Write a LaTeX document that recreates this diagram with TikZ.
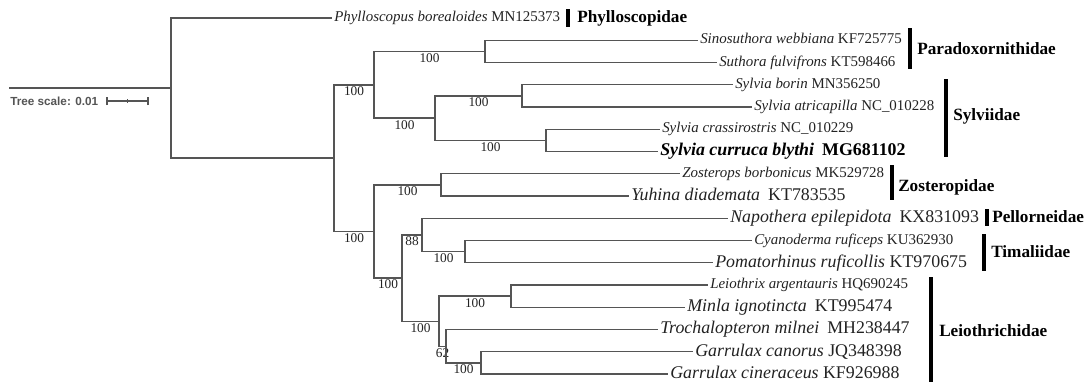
\documentclass[tikz,border=0pt]{standalone}
\usepackage{fontspec}
\setmainfont{Liberation Serif}
\newfontfamily\scalefamily{Liberation Sans}
\usetikzlibrary{calc}
\definecolor{treegray}{HTML}{555555}
\definecolor{labgray}{HTML}{222222}
\tikzset{
  leafsm/.style={anchor=west, inner xsep=1.5pt, inner ysep=0pt, text height=7.5pt, text depth=2pt, text=labgray, font=\fontsize{11.2}{13}\selectfont},
  leaflg/.style={leafsm, text height=9pt, text depth=2.5pt, font=\fontsize{13.4}{15}\selectfont},
  family/.style={anchor=west, inner sep=0pt, font=\fontsize{12.9}{15}\selectfont\bfseries},
  branch/.style={draw=treegray, line width=1.05pt},
  boot/.style={below, inner sep=1pt, text=labgray, font=\fontsize{10}{11}\selectfont},
  cladebar/.style={line width=2.4pt, draw=black}
}

\begin{document}
\begin{tikzpicture}[x=0.75pt, y=-0.75pt]
  \useasboundingbox (0,0) rectangle (1086,386);

  % Hojas
  \node (phyl)  [leafsm] at (332,18)     {\textit{Phylloscopus borealoides} MN125373};
  \node (sino)  [leafsm] at (698,40.25)  {\textit{Sinosuthora webbiana} KF725775};
  \node (suth)  [leafsm] at (717,62.5)   {\textit{Suthora fulvifrons} KT598466};
  \node (borin) [leafsm] at (733,84.75)  {\textit{Sylvia borin} MN356250};
  \node (atri)  [leafsm] at (752,107)    {\textit{Sylvia atricapilla} NC\_010228};
  \node (crass) [leafsm] at (660,129.25) {\textit{Sylvia crassirostris} NC\_010229};
  \node (curr)  [leaflg, text=black] at (658,151.5) {\bfseries\textit{Sylvia curruca blythi}\hspace{0.45em}MG681102};
  \node (zost)  [leafsm] at (680,173.75) {\textit{Zosterops borbonicus} MK529728};
  \node (yuh)   [leaflg] at (629,196)    {\textit{Yuhina diademata}\hspace{0.45em}KT783535};
  \node (napo)  [leaflg] at (728,218.25) {\textit{Napothera epilepidota}\hspace{0.45em}KX831093};
  \node (cyan)  [leafsm] at (752,240.5)  {\textit{Cyanoderma ruficeps} KU362930};
  \node (poma)  [leaflg] at (713,262.75) {\textit{Pomatorhinus ruficollis} KT970675};
  \node (leio)  [leafsm] at (708,285)    {\textit{Leiothrix argentauris} HQ690245};
  \node (minla) [leaflg] at (685,307.25) {\textit{Minla ignotincta}\hspace{0.45em}KT995474};
  \node (troch) [leaflg] at (658,329.5)  {\textit{Trochalopteron milnei}\hspace{0.45em}MH238447};
  \node (gcan)  [leaflg] at (693,351.75) {\textit{Garrulax canorus} JQ348398};
  \node (gcin)  [leaflg] at (668,374)    {\textit{Garrulax cineraceus} KF926988};

  % Nodos internos
  \coordinate (stem) at (9,88.1);
  \coordinate (root) at (171,88.1);
  \coordinate (A) at (334,158.1);
  \coordinate (B) at (374,84.8);
  \coordinate (C) at (485,51.4);
  \coordinate (D) at (435,118.1);
  \coordinate (E) at (522,95.9);
  \coordinate (F) at (546,140.4);
  \coordinate (G) at (374,231.5);
  \coordinate (H) at (441,184.9);
  \coordinate (I) at (402,278);
  \coordinate (J) at (422,234.9);
  \coordinate (K) at (465,251.6);
  \coordinate (L) at (439,321.2);
  \coordinate (M) at (511,296.1);
  \coordinate (N) at (446,346.2);
  \coordinate (O) at (481,362.9);

  % Ramas
  \draw [branch] (stem) -- (root);
  \draw [branch] (root) |- (phyl.west);
  \draw [branch] (root) |- (A);
  \draw [branch] (A) |- node[boot, pos=0.75] {100} (B);
  \draw [branch] (A) |- node[boot, pos=0.75] {100} (G);
  \draw [branch] (B) |- node[boot, pos=0.75] {100} (C);
  \draw [branch] (B) |- node[boot, pos=0.75] {100} (D);
  \draw [branch] (C) |- (sino.west);
  \draw [branch] (C) |- (suth.west);
  \draw [branch] (D) |- node[boot, pos=0.75] {100} (E);
  \draw [branch] (D) |- node[boot, pos=0.75] {100} (F);
  \draw [branch] (E) |- (borin.west);
  \draw [branch] (E) |- (atri.west);
  \draw [branch] (F) |- (crass.west);
  \draw [branch] (F) |- (curr.west);
  \draw [branch] (G) |- node[boot, pos=0.75] {100} (H);
  \draw [branch] (G) |- node[boot, pos=0.75] {100} (I);
  \draw [branch] (H) |- (zost.west);
  \draw [branch] (H) |- (yuh.west);
  \draw [branch] (I) |- node[boot, pos=0.75] {88} (J);
  \draw [branch] (I) |- node[boot, pos=0.75] {100} (L);
  \draw [branch] (J) |- (napo.west);
  \draw [branch] (J) |- node[boot, pos=0.75] {100} (K);
  \draw [branch] (K) |- (cyan.west);
  \draw [branch] (K) |- (poma.west);
  \draw [branch] (L) |- node[boot, pos=0.75] {100} (M);
  \draw [branch] (L) |- node[boot, pos=0.75] {62} (N);
  \draw [branch] (M) |- (leio.west);
  \draw [branch] (M) |- (minla.west);
  \draw [branch] (N) |- (troch.west);
  \draw [branch] (N) |- node[boot, pos=0.75] {100} (O);
  \draw [branch] (O) |- (gcan.west);
  \draw [branch] (O) |- (gcin.west);

  % Familias
  \draw [cladebar] (568,9) -- (568,27);
  \node (phylfam) [family] at (577,18) {Phylloscopidae};
  \draw [cladebar] (910,28) -- (910,69);
  \node (parafam) [family] at (917,49) {Paradoxornithidae};
  \draw [cladebar] (946,79) -- (946,157);
  \node (sylvfam) [family] at (953,116) {Sylviidae};
  \draw [cladebar] (892,165) -- (892,200);
  \node (zostfam) [family] at (898,187) {Zosteropidae};
  \draw [cladebar] (987,209) -- (987,226);
  \node (pellfam) [family] at (992,217) {Pellorneidae};
  \draw [cladebar] (984,234) -- (984,271);
  \node (timafam) [family] at (991,252) {Timaliidae};
  \draw [cladebar] (931,277) -- (931,382);
  \node (leiofam) [family] at (939,331) {Leiothrichidae};

  % Escala
  \node (scaletxt) [anchor=west, inner sep=0pt, text=treegray, font=\scalefamily\fontsize{8.8}{10}\selectfont\bfseries] at (10,101) {Tree scale: 0.01};
  \coordinate (sbl) at (107,101);
  \coordinate (sbr) at (148,101);
  \draw [treegray, line width=0.8pt] (sbl) -- (sbr);
  \draw [treegray, line width=0.8pt] ([yshift=-3pt]sbl) -- ([yshift=3pt]sbl);
  \draw [treegray, line width=0.8pt] ([yshift=-3pt]sbr) -- ([yshift=3pt]sbr);
  \draw [treegray, line width=0.6pt] ($(sbl)!0.5!(sbr)+(0,-1.2pt)$) -- ($(sbl)!0.5!(sbr)+(0,1.2pt)$);
\end{tikzpicture}
\end{document}
